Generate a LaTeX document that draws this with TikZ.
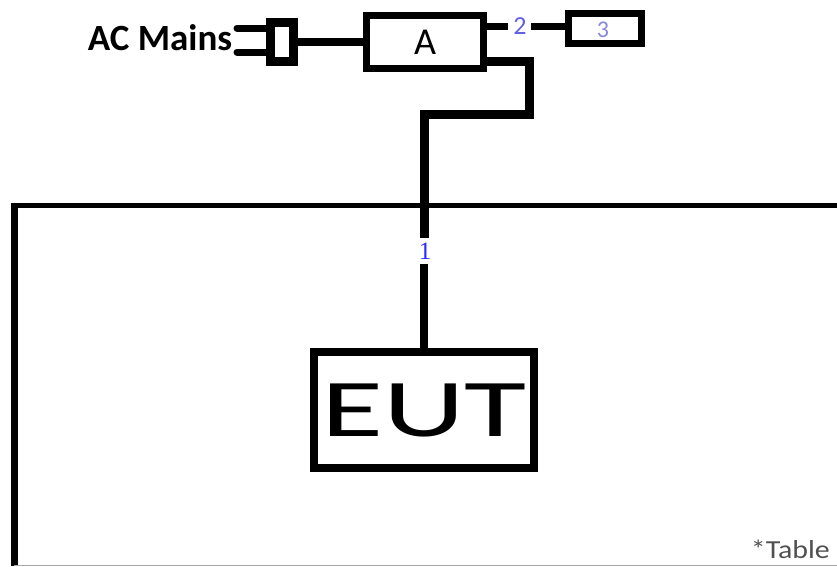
\documentclass[tikz,border=0pt]{standalone}
\usepackage{fontspec}
\setmainfont{Carlito}
\newfontfamily\serifnum{Liberation Serif}
\usepackage{tikz}
\usetikzlibrary{
  arrows,
  positioning,
  calc
}
\definecolor{portblue}{RGB}{96,96,224}
\definecolor{portlav}{RGB}{136,136,224}
\definecolor{cableblue}{RGB}{40,40,255}
\definecolor{tablegray}{RGB}{80,80,80}

\begin{document}
\begin{tikzpicture}[x=1pt,y=-1pt,
      unit/.style={
         rectangle,
         draw=black,
         line width=7pt,
         inner sep=0pt
      },
      plugbox/.style={
         rectangle,
         draw=black,
         line width=9pt,
         minimum width=22.5pt,
         minimum height=39pt
      },
      prong/.style={line width=7pt,line cap=round},
      cable/.style={line width=8pt},
      port/.style={inner sep=0pt,font=\fontsize{26}{26}\selectfont},
      %text height=1.5ex,text depth=.25ex
    ]
    \useasboundingbox (0,0) rectangle (837,566);
    % table
    \coordinate (tbl1) at (14,566);
    \coordinate (tbl2) at (14,205);
    \coordinate (tbl3) at (837,205);
    \coordinate (tbl4) at (837,565);
    \draw[line width=7pt] (tbl1) -- ($(tbl2)+(0,-2.5)$);
    \draw[line width=5pt] (tbl2) -- (tbl3);
    \draw[line width=1pt,draw=black!35] (tbl1|-tbl4) -- (tbl4);
    \node (tbllabel) [anchor=base east,text=tablegray,inner sep=0pt,
       font=\fontsize{26}{26}\selectfont] at (830,558)
       {\scalebox{1.15}[1]{*Table}};
    % mains side
    \node (mains) [font=\bfseries\fontsize{37}{37}\selectfont,inner sep=0pt] at (160,38) {AC Mains};
    \node (plug) [plugbox] at (282,41.5) {};
    \coordinate (prongA) at (237,28);
    \coordinate (prongB) at (237,52);
    \draw[prong] (prongA) -- (prongA -| plug.west);
    \draw[prong] (prongB) -- (prongB -| plug.west);
    \node (boxA) [unit,minimum width=117pt,minimum height=53pt,
       font=\fontsize{38}{38}\selectfont] at (425,42) {A};
    \draw[cable] (plug.east) -- (plug.east -| boxA.west);
    % port 2 and 3
    \node (lbltwo) [port,text=portblue] at (520,26) {2};
    \node (box3) [unit,minimum width=72.5pt,minimum height=30pt] at (605,28.5) {};
    \node (lblthree) [port,text=portlav,font=\fontsize{24}{24}\selectfont] at (603,30) {3};
    \draw[cable,line width=7pt] (boxA.east |- lbltwo) -- ++(21,0);
    \draw[cable,line width=7pt] ($(lbltwo.east)+(4,0)$) -- (lbltwo -| box3.west);
    % cable 1
    \node (eut) [unit,line width=8pt,minimum width=220pt,minimum height=116pt] at (424,410)
       {\raisebox{-5pt}{\scalebox{1.55}[1]{\fontsize{82}{82}\selectfont EUT}}};
    \node (lblone) [inner sep=5pt,text=cableblue,
       font=\serifnum\fontsize{25}{25}\selectfont] at (425,251) {1};
    \coordinate (kneeA) at (529,61);
    \coordinate (kneeB) at (529,114);
    \draw[cable,line width=9pt] (kneeA -| boxA.east) -- (kneeA) -- (kneeB) -| (lblone.north -| eut.north);
    \draw[cable] (lblone.south -| eut.north) -- (eut.north);
\end{tikzpicture}
\end{document}
